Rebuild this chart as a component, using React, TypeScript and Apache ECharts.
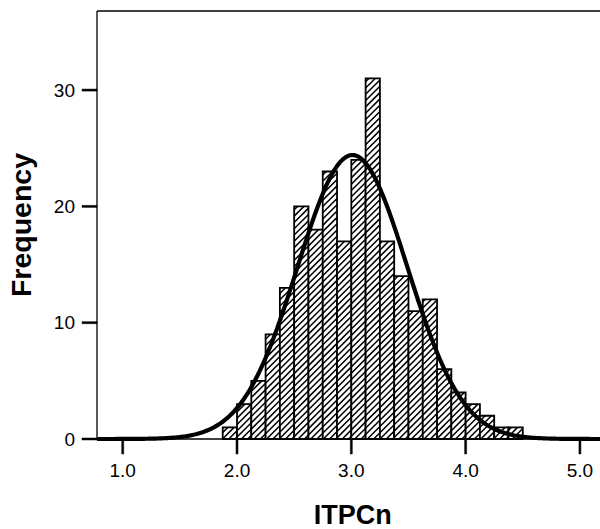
import React, { useEffect, useRef } from "react";
import * as echarts from "echarts";

// Histogram bins (lower edges) and their frequencies
const binStarts = [
  1.875, 2.0, 2.125, 2.25, 2.375, 2.5, 2.625, 2.75, 2.875, 3.0, 3.125,
  3.25, 3.375, 3.5, 3.625, 3.75, 3.875, 4.0, 4.125, 4.25, 4.375,
];
const counts = [1, 3, 5, 9, 13, 20, 18, 23, 17, 24, 31, 17, 14, 11, 12, 6, 4, 3, 2, 1, 1];
const binWidth = 0.125;

// Fitted normal curve parameters
const fitMean = 3.01;
const fitSd = 0.48;

const xTickValues = [1, 2, 3, 4, 5];
const yTickValues = [0, 10, 20, 30];

// Visible frame range
const xMin = 0.775;
const xMax = 5.25;
const yMin = 0;
const yMax = 36.8;

const FONT = "'Liberation Sans', Arial, Helvetica, sans-serif";
const TICK_LEN = 15;
const TICK_W = 2;

// Frame layout (pixels)
const FRAME_LEFT = 97;
const FRAME_TOP = 11;
const FRAME_W = 511.5;
const FRAME_H = 428;

export default function App() {
  const ref = useRef<HTMLDivElement>(null);

  useEffect(() => {
    if (!ref.current) return;
    const chart = echarts.init(ref.current, undefined, { renderer: "svg" });

    const total = counts.reduce((a, b) => a + b, 0);
    const binData = binStarts.map((s, i) => [s, s + binWidth, counts[i]]);

    const curve: number[][] = [];
    const steps = 400;
    for (let i = 0; i <= steps; i++) {
      const x = xMin + ((xMax - xMin) * i) / steps;
      const z = (x - fitMean) / fitSd;
      const y = (total * binWidth) / (fitSd * Math.sqrt(2 * Math.PI)) * Math.exp(-0.5 * z * z);
      curve.push([x, y]);
    }

    // The grid is enlarged by the tick length so that ticks are drawn inside it
    const xAxisMin = xMin - (TICK_LEN * (xMax - xMin)) / FRAME_W;
    const yAxisMin = yMin - (TICK_LEN * (yMax - yMin)) / FRAME_H;

    const hatchStep = 6.3;
    const black = "#000";

    chart.setOption({
      animation: false,
      backgroundColor: "#fff",
      grid: {
        left: FRAME_LEFT - TICK_LEN,
        top: FRAME_TOP,
        width: FRAME_W + TICK_LEN,
        height: FRAME_H + TICK_LEN,
        outerBoundsMode: "none",
        containLabel: false,
        show: false,
      },
      xAxis: {
        type: "value",
        min: xAxisMin,
        max: xMax,
        axisLine: { show: false },
        axisTick: { show: false },
        axisLabel: {
          customValues: xTickValues,
          formatter: (v: number) => v.toFixed(1),
          fontSize: 19,
          color: black,
          margin: 7,
          fontFamily: FONT,
        },
        splitLine: { show: false },
        name: "ITPCn",
        nameLocation: "middle",
        nameGap: 47,
        nameTextStyle: {
          fontSize: 27,
          fontWeight: "bold",
          color: black,
          fontFamily: FONT,
          padding: [0, 0, 0, TICK_LEN],
        },
      },
      yAxis: {
        type: "value",
        min: yAxisMin,
        max: yMax,
        axisLine: { show: false },
        axisTick: { show: false },
        axisLabel: {
          customValues: yTickValues,
          fontSize: 19,
          color: black,
          margin: 7,
          fontFamily: FONT,
        },
        splitLine: { show: false },
        name: "Frequency",
        nameLocation: "middle",
        nameGap: 47,
        nameTextStyle: {
          fontSize: 28.5,
          fontWeight: "bold",
          color: black,
          fontFamily: FONT,
          padding: [0, 0, 0, TICK_LEN],
        },
      },
      series: [
        {
          // histogram bars with hatching
          type: "custom",
          silent: true,
          data: binData,
          encode: { x: [0, 1], y: 2 },
          renderItem: (params: any, api: any) => {
            const pTL = api.coord([api.value(0), api.value(2)]);
            const pBR = api.coord([api.value(1), 0]);
            const x0 = pTL[0];
            const yT = pTL[1];
            const x1 = pBR[0];
            const yB = pBR[1];
            const children: any[] = [];
            children.push({
              type: "rect",
              shape: { x: x0, y: yT, width: x1 - x0, height: yB - yT },
              style: { fill: "#fff", stroke: "none" },
            });
            const cStart = Math.ceil((x0 + yT) / hatchStep) * hatchStep;
            for (let c = cStart; c <= x1 + yB; c += hatchStep) {
              const xs = Math.max(x0, c - yB);
              const xe = Math.min(x1, c - yT);
              if (xe - xs > 0.3) {
                children.push({
                  type: "line",
                  shape: { x1: xs, y1: c - xs, x2: xe, y2: c - xe },
                  style: { stroke: black, lineWidth: 1.5 },
                });
              }
            }
            children.push({
              type: "rect",
              shape: { x: x0, y: yT, width: x1 - x0, height: yB - yT },
              style: { fill: "none", stroke: black, lineWidth: 1.8 },
            });
            return { type: "group", children };
          },
          z: 2,
        },
        {
          // fitted normal curve
          type: "line",
          data: curve,
          showSymbol: false,
          silent: true,
          lineStyle: { color: black, width: 4.2 },
          z: 3,
        },
        {
          // plot frame (left, bottom, top edges) and the axis ticks
          type: "custom",
          silent: true,
          data: [[xMin, yMin, xMax, yMax]],
          encode: { x: [0, 2], y: [1, 3] },
          renderItem: (params: any, api: any) => {
            const x0v = api.value(0);
            const y0v = api.value(1);
            const x1v = api.value(2);
            const y1v = api.value(3);
            const bl = api.coord([x0v, y0v]);
            const tl = api.coord([x0v, y1v]);
            const br = api.coord([x1v, y0v]);
            const tr = api.coord([x1v, y1v]);
            const st = { stroke: black, lineWidth: 1.3 };
            const children: any[] = [
              { type: "line", shape: { x1: tl[0], y1: tl[1], x2: bl[0], y2: bl[1] }, style: st },
              { type: "line", shape: { x1: bl[0], y1: bl[1], x2: br[0], y2: br[1] }, style: st },
              { type: "line", shape: { x1: tl[0], y1: tl[1], x2: tr[0], y2: tr[1] }, style: st },
            ];
            xTickValues.forEach((v) => {
              const p = api.coord([v, y0v]);
              const h = TICK_W / 2;
              children.push({
                type: "polygon",
                shape: {
                  points: [
                    [p[0] - h, p[1]],
                    [p[0] + h, p[1]],
                    [p[0] + h, p[1] + TICK_LEN],
                    [p[0] - h, p[1] + TICK_LEN],
                  ],
                },
                style: { fill: black, stroke: black, lineWidth: 0.5 },
              });
            });
            yTickValues.forEach((v) => {
              const p = api.coord([x0v, v]);
              const h = TICK_W / 2;
              children.push({
                type: "polygon",
                shape: {
                  points: [
                    [p[0] - TICK_LEN, p[1] - h],
                    [p[0], p[1] - h],
                    [p[0], p[1] + h],
                    [p[0] - TICK_LEN, p[1] + h],
                  ],
                },
                style: { fill: black, stroke: black, lineWidth: 0.5 },
              });
            });
            return { type: "group", children };
          },
          z: 4,
        },
      ],
    });

    return () => chart.dispose();
  }, []);

  return (
    <div
      ref={ref}
      style={{ position: "fixed", left: 0, top: 0, width: 600, height: 529 }}
    />
  );
}
